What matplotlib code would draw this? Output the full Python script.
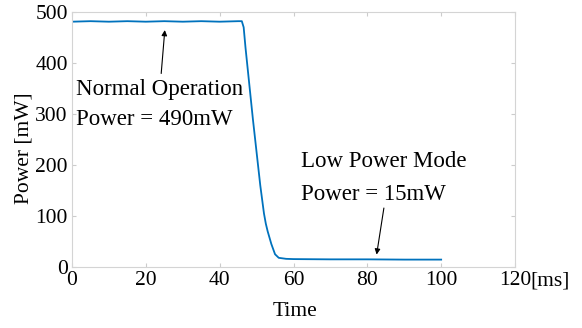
import matplotlib
matplotlib.use('Agg')
import matplotlib.pyplot as plt

# power trace [ms], [mW]
time_ms = [0, 5, 10, 15, 20, 25, 30, 35, 40, 45, 46, 46.5, 47, 48, 49, 50, 51,
           52, 52.5, 53, 54, 55, 56, 58, 60, 70, 80, 90, 100]
power_mw = [481, 482, 481, 482, 481, 482, 481, 482, 481, 482, 482, 470, 430,
            360, 290, 225, 160, 105, 85, 70, 45, 25, 18, 16, 15.5, 15, 15, 14.5, 14.5]

x_ticks = [0, 20, 40, 60, 80, 100, 120]
y_ticks = [0, 100, 200, 300, 400, 500]

plt.rcParams['font.family'] = ['Liberation Serif', 'DejaVu Serif']

fig = plt.figure(figsize=(5.82, 3.28), dpi=100)
ax = fig.add_axes([72/582, 1-267/328, 443/582, 255/328])

ax.plot(time_ms, power_mw, color='#0072BD', lw=1.3)

ax.set_xlim(0, 120)
ax.set_ylim(0, 500)
ax.set_xticks(x_ticks)
ax.set_yticks(y_ticks)
ax.tick_params(direction='in', length=3, color='#cccccc', labelsize=15.5, pad=3,
               top=True, right=True)
for s in ax.spines.values():
    s.set_color('#d4d4d4')
    s.set_linewidth(0.8)

ax.set_xlabel('Time', fontsize=15.5)
ax.set_ylabel('Power [mW]', fontsize=15.5)
ax.xaxis.set_label_coords(0.503, -0.137)
ax.yaxis.set_label_coords(-0.088, 0.467)
ax.annotate('[ms]', xy=(1.0, 0), xycoords='axes fraction', xytext=(11, -3),
            textcoords='offset points', ha='left', va='top', fontsize=15.5)

# annotations
fs = 16.5
ax.text(1.1, 337, 'Normal Operation', fontsize=fs, va='baseline', ha='left')
ax.text(1.1, 278, 'Power = 490mW', fontsize=fs, va='baseline', ha='left')
ax.annotate('', xy=(25.2, 470), xytext=(24.1, 374),
            arrowprops=dict(arrowstyle='-|>', color='k', lw=0.8, mutation_scale=8))

ax.text(62.0, 197, 'Low Power Mode', fontsize=fs, va='baseline', ha='left')
ax.text(62.0, 131, 'Power = 15mW', fontsize=fs, va='baseline', ha='left')
ax.annotate('', xy=(82.4, 19), xytext=(84.6, 121),
            arrowprops=dict(arrowstyle='-|>', color='k', lw=0.8, mutation_scale=8))

fig.savefig('out.png', dpi=100)
